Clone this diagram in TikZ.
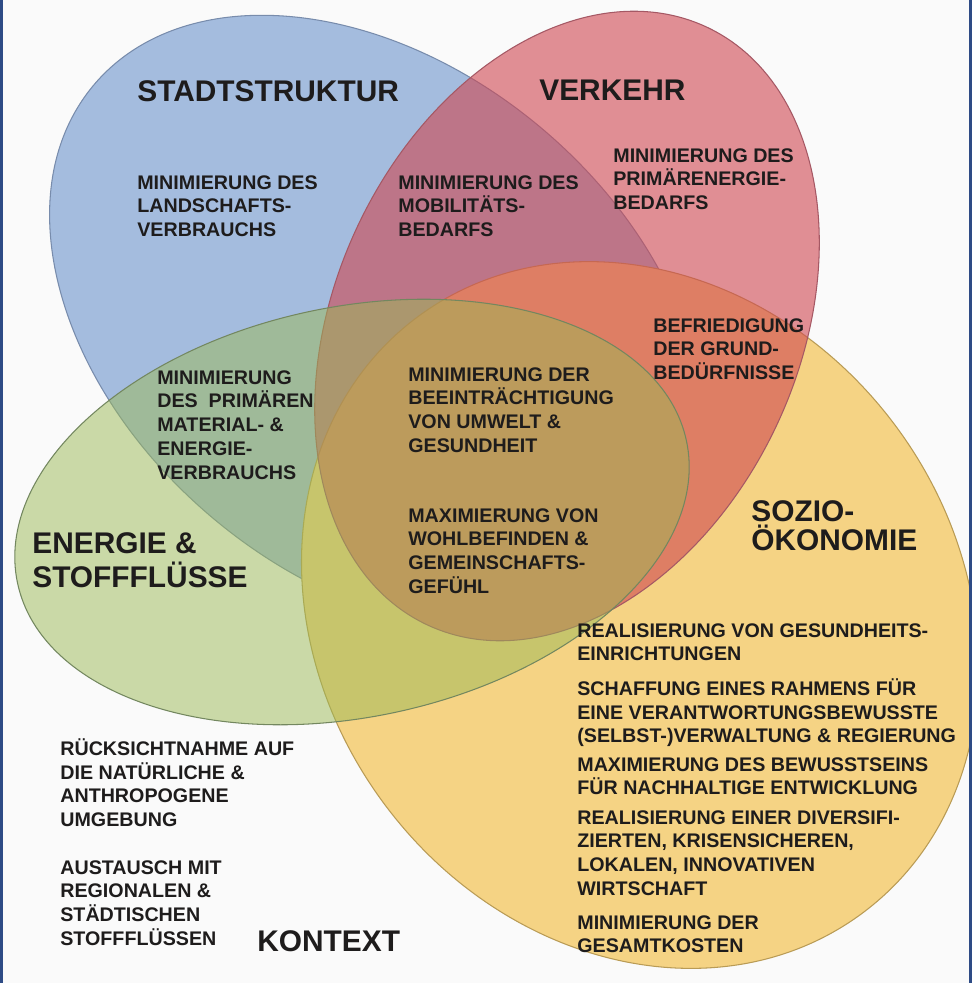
\documentclass[tikz,border=0pt]{standalone}
\usepackage{fontspec}
\setmainfont{Liberation Sans}
\definecolor{paper}{RGB}{250,250,250}
\definecolor{frame}{RGB}{46,75,133}
\definecolor{ink}{RGB}{30,28,28}
\definecolor{stadtfill}{RGB}{164,188,222}
\definecolor{stadtline}{RGB}{120,140,172}
\definecolor{soziofill}{RGB}{245,211,132}
\definecolor{sozioline}{RGB}{185,155,85}
\definecolor{verkehrfill}{RGB}{207,70,80}
\definecolor{verkehrline}{RGB}{165,88,100}
\definecolor{energiefill}{RGB}{155,185,85}
\definecolor{energieline}{RGB}{115,135,95}
\begin{document}
\begin{tikzpicture}[x=0.02cm,y=-0.02cm,
  setline/.style={line width=0.6pt},
  body/.style={anchor=north west, inner sep=0pt, align=left, text=ink,
    font=\bfseries\fontsize{11.2}{13.6}\selectfont},
  title/.style={anchor=north west, inner sep=0pt, align=left, text=ink,
    font=\bfseries\fontsize{17}{19.8}\selectfont},
]
\useasboundingbox (0,0) rectangle (972,983);
\fill[paper] (0,0) rectangle (972,983);

% the four sets
\filldraw[setline, fill=stadtfill, draw=stadtline, rotate around={-40:(377,323)}]
  (377,323) ellipse [x radius=7.4cm, y radius=5.1cm];
\filldraw[setline, fill=soziofill, draw=sozioline, rotate around={-53:(640,615)}]
  (640,615) ellipse [x radius=7.44cm, y radius=6.36cm];
\filldraw[setline, fill=verkehrfill, fill opacity=0.6, draw=verkehrline, rotate around={65:(567,326)}]
  (567,326) ellipse [x radius=6.6cm, y radius=4.64cm];
\filldraw[setline, fill=energiefill, fill opacity=0.5, draw=energieline, rotate around={12:(352,512)}]
  (352,512) ellipse [x radius=6.84cm, y radius=4.1cm];

% side rules of the frame
\draw[frame, line width=0.06cm] (1.5,0) -- (1.5,983);
\draw[frame, line width=0.06cm] (970.5,0) -- (970.5,983);

% set titles
\node[title] (tstadt) at (137,80) {STADTSTRUKTUR};
\node[title] (tverkehr) at (539,80) {VERKEHR};
\node[title, font={\bfseries\fontsize{17}{19.6}\selectfont}] (tenergie) at (32,532) {ENERGIE \&\\STOFFFLÜSSE};
\node[title, font={\bfseries\fontsize{17}{16.6}\selectfont\lineskiplimit=-20pt}] (tsozio) at (751,500) {SOZIO-\\ÖKONOMIE};
\node[title] (tkontext) at (257,930) {KONTEXT};

% goals inside the sets
\node[body] (bland) at (137,175) {MINIMIERUNG DES\\LANDSCHAFTS-\\VERBRAUCHS};
\node[body] (bmobil) at (398,175) {MINIMIERUNG DES\\MOBILITÄTS-\\BEDARFS};
\node[body] (bprimaer) at (613,148) {MINIMIERUNG DES\\PRIMÄRENERGIE-\\BEDARFS};
\node[body] (bgrund) at (653,318) {BEFRIEDIGUNG\\DER GRUND-\\BEDÜRFNISSE};
\node[body] (bmaterial) at (157,370) {MINIMIERUNG\\DES\ \ PRIMÄREN\\MATERIAL- \&\\ENERGIE-\\VERBRAUCHS};
\node[body] (bumwelt) at (408,367) {MINIMIERUNG DER\\BEEINTRÄCHTIGUNG\\VON UMWELT \&\\GESUNDHEIT};
\node[body] (bwohl) at (408,508) {MAXIMIERUNG VON\\WOHLBEFINDEN \&\\GEMEINSCHAFTS-\\GEFÜHL};

% socio-economic goals
\node[body] (sgesund) at (577,623) {REALISIERUNG VON GESUNDHEITS-\\EINRICHTUNGEN};
\node[body] (srahmen) at (577,678) {SCHAFFUNG EINES RAHMENS FÜR\\EINE VERANTWORTUNGSBEWUSSTE\\(SELBST-)VERWALTUNG \& REGIERUNG};
\node[body] (sbewusst) at (577,757) {MAXIMIERUNG DES BEWUSSTSEINS\\FÜR NACHHALTIGE ENTWICKLUNG};
\node[body] (swirtschaft) at (577,810) {REALISIERUNG EINER DIVERSIFI-\\ZIERTEN, KRISENSICHEREN,\\LOKALEN, INNOVATIVEN\\WIRTSCHAFT};
\node[body] (skosten) at (577,915) {MINIMIERUNG DER\\GESAMTKOSTEN};

% context
\node[body] (crueck) at (60,738) {RÜCKSICHTNAHME AUF\\DIE NATÜRLICHE \&\\ANTHROPOGENE\\UMGEBUNG};
\node[body] (caustausch) at (60,860) {AUSTAUSCH MIT\\REGIONALEN \&\\STÄDTISCHEN\\STOFFFLÜSSEN};
\end{tikzpicture}
\end{document}
